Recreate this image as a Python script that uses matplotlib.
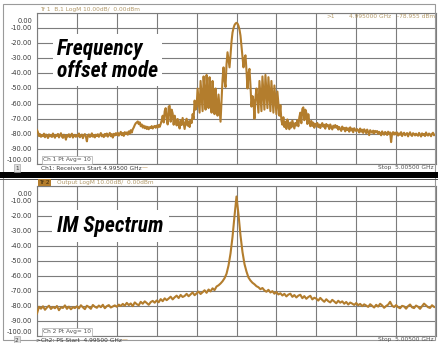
import numpy as np
import matplotlib
matplotlib.use("Agg")
import matplotlib.pyplot as plt
from matplotlib.patches import Rectangle

# ---------------- data ----------------
# frequency offset from 5.000 GHz in MHz, levels in dBm
top_start, top_step = -5.0, 0.025
top_levels = [
    -77.5, -79.0, -81.5, -80.2, -82.0, -80.8, -81.6, -79.9, -82.3, -80.5, -81.2, -82.8, -80.4, -81.7, -80.9, -82.1, -79.8, -81.4, -82.6, -80.7,
    -81.3, -80.1, -82.4, -81.0, -79.6, -81.9, -82.7, -80.6, -81.5, -83.9, -80.8, -81.8, -80.3, -82.2, -81.1, -79.9, -82.5, -81.4, -80.7, -82.0,
    -80.9, -81.7, -79.8, -82.3, -81.2, -80.5, -82.9, -81.0, -80.2, -81.8, -85.0, -81.1, -80.4, -82.1, -81.6, -79.7, -81.9, -80.8, -82.4, -80.6,
    -81.5, -80.3, -82.0, -80.9, -79.5, -81.7, -80.6, -82.2, -80.1, -81.3, -79.8, -81.9, -80.7, -79.4, -81.6, -80.2, -82.5, -80.0, -81.1, -79.6,
    -80.8, -79.3, -81.2, -80.0, -78.7, -80.9, -79.5, -81.4, -78.9, -80.2, -79.1, -80.6, -78.4, -79.8, -77.6, -79.2, -77.0, -75.8, -74.2, -73.0,
    -72.5, -71.8, -73.6, -72.4, -75.0, -73.8, -75.9, -74.6, -76.3, -75.1, -76.8, -75.4, -77.0, -75.6, -76.2, -74.9, -76.5, -75.3, -74.8, -76.0,
    -74.6, -75.8, -74.2, -75.4, -73.5, -71.0, -68.0, -72.5, -65.0, -63.0, -70.5, -73.8, -62.0, -61.5, -72.0, -64.0, -66.5, -74.0, -68.0, -71.5,
    -74.5, -70.2, -73.8, -76.5, -71.0, -74.2, -69.5, -73.0, -76.8, -72.2, -70.0, -74.6, -71.8, -75.5, -70.8, -72.9, -67.0, -70.0, -58.0, -64.0,
    -62.0, -50.0, -58.0, -66.0, -45.0, -55.0, -65.0, -42.0, -52.0, -64.0, -41.0, -53.0, -63.0, -42.5, -55.0, -66.0, -45.0, -57.0, -67.0, -50.0,
    -60.0, -68.0, -54.0, -63.0, -72.0, -58.0, -44.0, -36.0, -45.0, -49.0, -34.0, -26.0, -31.0, -36.0, -28.0, -19.0, -13.0, -10.0, -8.0, -7.0,
    -6.5, -7.0, -8.5, -11.0, -15.0, -22.0, -29.0, -36.0, -30.0, -28.0, -38.0, -50.0, -40.0, -37.0, -48.0, -62.0, -55.0, -58.0, -70.0, -56.0,
    -50.0, -58.0, -66.0, -45.0, -55.0, -65.0, -42.0, -53.0, -64.0, -41.0, -52.0, -63.0, -42.5, -54.0, -65.0, -45.0, -56.0, -66.0, -48.0, -58.0,
    -67.0, -52.0, -60.0, -68.0, -61.0, -71.0, -74.0, -69.0, -75.5, -72.0, -76.8, -70.5, -74.2, -77.0, -72.5, -75.8, -71.2, -74.0, -76.5, -72.8,
    -74.5, -71.0, -75.0, -69.0, -66.0, -73.0, -63.5, -62.5, -71.0, -64.0, -66.0, -73.5, -67.0, -72.0, -75.0, -71.5, -74.8, -72.6, -76.0, -73.4,
    -74.5, -72.8, -75.6, -73.9, -76.2, -74.1, -72.9, -75.3, -74.0, -76.6, -73.5, -75.0, -74.3, -76.9, -73.8, -75.4, -77.1, -74.6, -75.9, -74.2,
    -76.0, -74.8, -77.2, -75.5, -76.8, -78.1, -75.2, -77.0, -76.1, -78.4, -75.9, -77.5, -76.4, -78.6, -75.7, -77.8, -76.6, -79.0, -76.3, -77.4,
    -78.2, -76.9, -77.8, -79.1, -76.5, -78.6, -77.3, -79.4, -77.0, -78.0, -79.6, -77.2, -78.8, -80.9, -77.6, -78.5, -79.3, -77.9, -79.8, -78.1,
    -79.0, -78.2, -80.1, -78.7, -79.6, -81.0, -78.4, -79.9, -80.6, -78.8, -79.4, -80.8, -78.6, -80.2, -79.1, -85.5, -79.7, -78.9, -80.5, -79.2,
    -80.4, -79.1, -81.2, -79.8, -80.6, -78.9, -81.5, -80.0, -79.3, -81.0, -80.3, -79.5, -81.7, -80.1, -79.0, -80.8, -81.4, -79.6, -80.2, -81.1,
    -79.9, -80.7, -81.3, -79.4, -80.5, -81.8, -79.7, -80.9, -80.2, -81.5, -79.1, -80.6, -81.2, -79.8, -80.4, -81.6, -80.0, -79.3, -81.0, -80.6,
    -81.0,
]

bot_start, bot_step = -5.0, 0.05
bot_levels = [
    -85.0, -80.5, -81.8, -80.2, -82.5, -81.0, -79.8, -82.0, -80.6, -81.5, -80.0, -82.8, -80.9, -81.3, -79.6, -81.9, -80.4, -82.2, -80.8, -81.4,
    -80.2, -81.6, -79.5, -80.9, -82.1, -79.8, -80.7, -81.9, -79.3, -80.5, -81.2, -79.7, -80.8, -79.2, -81.5, -80.1, -79.4, -81.0, -80.3, -79.6,
    -80.5, -79.1, -80.0, -78.6, -79.8, -77.9, -79.4, -78.3, -80.1, -77.6, -78.8, -79.5, -77.2, -78.5, -76.9, -78.0, -79.2, -77.4, -76.6, -77.8,
    -76.3, -77.5, -75.4, -76.8, -74.9, -76.1, -75.0, -73.8, -75.6, -74.2, -73.1, -74.7, -72.6, -74.0, -73.3, -71.9, -73.5, -72.2, -71.0, -72.8,
    -71.6, -70.4, -72.0, -70.8, -69.5, -71.2, -69.0, -70.3, -68.2, -69.4, -67.0, -66.2, -65.0, -63.5, -61.5, -58.5, -53.0, -45.0, -34.0, -20.0,
    -7.0, -19.0, -33.0, -44.0, -52.0, -57.0, -61.0, -63.0, -64.5, -65.5, -66.8, -67.5, -68.8, -68.0, -69.6, -70.5, -69.2, -71.0, -70.1, -71.8,
    -70.6, -72.3, -71.5, -73.0, -71.9, -73.6, -72.4, -71.8, -73.9, -72.7, -74.3, -73.1, -72.5, -74.8, -73.4, -75.2, -74.0, -73.2, -75.6, -74.5,
    -75.1, -76.4, -74.6, -76.0, -77.2, -75.5, -76.8, -77.6, -75.9, -77.0, -78.2, -76.5, -77.8, -76.9, -78.5, -77.3, -79.0, -77.7, -78.4, -79.3,
    -78.0, -79.5, -78.6, -80.1, -78.9, -79.7, -80.6, -78.8, -79.9, -81.0, -79.2, -80.4, -78.5, -79.6, -81.2, -80.0, -79.1, -77.2, -79.8, -80.7,
    -79.4, -80.8, -81.5, -79.9, -80.3, -81.8, -80.1, -79.0, -80.9, -81.4, -79.7, -80.5, -81.9, -80.2, -78.4, -79.6, -80.8, -81.3, -79.5, -80.6,
    -80.9,
]

y_ticks = [0, -10, -20, -30, -40, -50, -60, -70, -80, -90, -100]
x_ticks = [-5, -4, -3, -2, -1, 0, 1, 2, 3, 4, 5]

# ---------------- style ----------------
W, H = 438, 343
TRACE = "#b37d2d"
GRID = "#7c7c7c"
LBL = "#b39a6a"
DARK = "#3a3a3a"
BIG_FONT = ["Roboto Condensed", "Roboto", "DejaVu Sans"]

fig = plt.figure(figsize=(W / 100, H / 100), dpi=100)
fig.patch.set_facecolor("white")


def fx(x):
    return x / W


def fy(y):
    return 1 - y / H


def make_axes(top_px, bot_px, levels, start, step):
    ax = fig.add_axes([fx(37), fy(bot_px), fx(436) - fx(37), fy(top_px) - fy(bot_px)])
    freqs = start + step * np.arange(len(levels))
    ax.set_xlim(-5, 5)
    ax.set_ylim(-100, 0)
    ax.set_xticks(x_ticks)
    ax.set_yticks(y_ticks)
    ax.grid(True, color=GRID, lw=0.8)
    ax.tick_params(length=0, labelbottom=False, labelleft=False)
    for s in ax.spines.values():
        s.set_color(GRID)
        s.set_linewidth(0.8)
    ax.plot(freqs, levels, color=TRACE, lw=1.5, zorder=3, clip_on=True)
    tr = ax.get_yaxis_transform()
    for v in y_ticks:
        ypos = v
        if v == 0:
            ypos = -5.3
        elif v == -100:
            ypos = -97.3
        ax.text(-0.012, ypos, f"{v:.2f}", transform=tr, ha="right", va="center",
                fontsize=4.8, color=DARK)
    return ax


ax1 = make_axes(13, 164, top_levels, top_start, top_step)
ax2 = make_axes(186, 336, bot_levels, bot_start, bot_step)

# outer frame and separator bar
fig.add_artist(Rectangle((fx(3), fy(340)), fx(435) - fx(3), fy(4) - fy(340),
                         transform=fig.transFigure, fill=False, ec="#9a9a9a", lw=0.8))
fig.add_artist(Rectangle((0, fy(177.5)), 1, fy(172) - fy(177.5),
                         transform=fig.transFigure, color="black", lw=0))
fig.add_artist(Rectangle((0, fy(179.5)), 1, fy(178.5) - fy(179.5),
                         transform=fig.transFigure, color="#555555", lw=0))

small = dict(fontsize=4.2, va="center")

# top panel annotations
fig.text(fx(40), fy(9), "Tr 1  B,1 LogM 10.00dB/  0.00dBm", color=LBL, **small)
fig.text(fx(326), fy(16), ">1", color=LBL, **small)
fig.text(fx(349), fy(16), "4.995000 GHz", color=LBL, **small)
fig.text(fx(397), fy(16), "-78.955 dBm", color=LBL, **small)
fig.text(fx(43), fy(160), "Ch 1 Pt Avg= 10", color="#555555", **small,
         bbox=dict(boxstyle="square,pad=0.25", fc="white", ec="#aaaaaa", lw=0.5))
fig.text(fx(41), fy(168), "Ch1: Receivers Start 4.99500 GHz", color=DARK, **small)
fig.text(fx(142), fy(168), "\u2014", color=TRACE, **small)
fig.text(fx(15), fy(168), "1", color=DARK, **small,
         bbox=dict(boxstyle="square,pad=0.2", fc="#dddddd", ec="#999999", lw=0.4))
fig.text(fx(434), fy(167), "Stop  5.00500 GHz", color="#555555", ha="right",
         fontsize=4.2, va="center")

# bottom panel annotations
fig.text(fx(39), fy(182.5), "Tr 2", color="#3a2a10", **small,
         bbox=dict(boxstyle="square,pad=0.2", fc=TRACE, ec="none"))
fig.text(fx(57), fy(182.5), "Output LogM 10.00dB/  0.00dBm", color=LBL, **small)
fig.text(fx(43), fy(332), "Ch 2 Pt Avg= 10", color="#555555", **small,
         bbox=dict(boxstyle="square,pad=0.25", fc="white", ec="#aaaaaa", lw=0.5))
fig.text(fx(36), fy(340), ">Ch2: PS Start  4.99500 GHz", color=DARK, **small)
fig.text(fx(122), fy(340), "\u2014", color=TRACE, **small)
fig.text(fx(15), fy(340), "2", color=DARK, **small,
         bbox=dict(boxstyle="square,pad=0.2", fc="#dddddd", ec="#999999", lw=0.4))
fig.text(fx(434), fy(339), "Stop  5.00500 GHz", color="#555555", ha="right",
         fontsize=4.2, va="center")

# big labels
fig.text(fx(57), fy(60), "Frequency\noffset mode", family=BIG_FONT, weight="bold",
         style="italic", fontsize=15.5, color="black", ha="left", va="center",
         linespacing=0.95, zorder=5,
         bbox=dict(boxstyle="square,pad=0.2", fc="white", ec="none"))
fig.text(fx(57), fy(226), "IM Spectrum", family=BIG_FONT, weight="bold",
         style="italic", fontsize=15.5, color="black", ha="left", va="center",
         zorder=5, bbox=dict(boxstyle="square,pad=0.25", fc="white", ec="none"))

fig.savefig("out.png", dpi=100, facecolor="white")
